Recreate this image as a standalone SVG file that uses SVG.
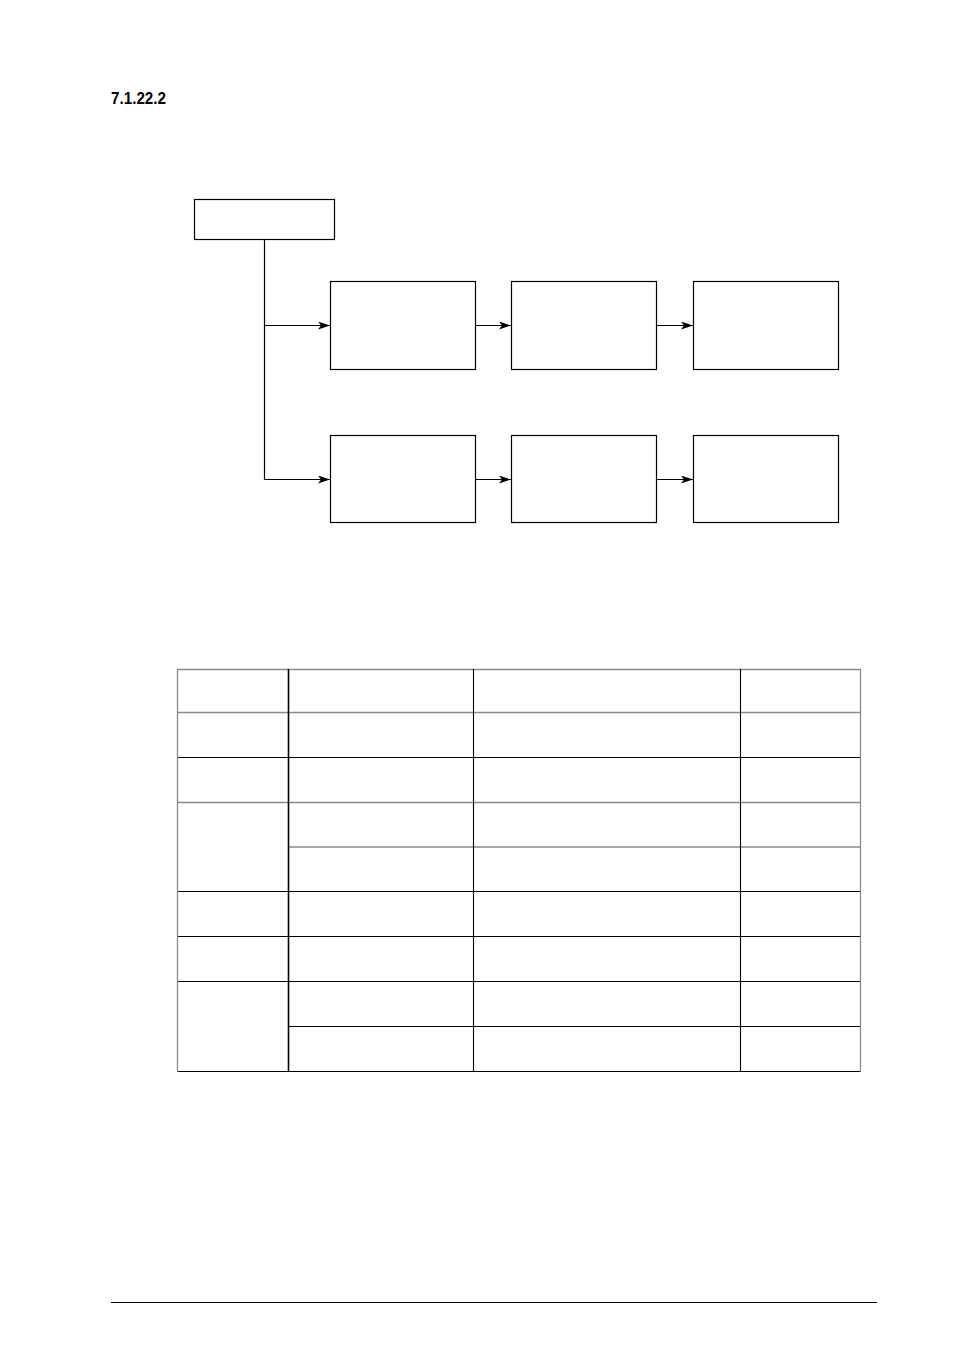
<svg xmlns="http://www.w3.org/2000/svg" width="954" height="1351" viewBox="0 0 954 1351">
<style>
.box{fill:#fff;stroke:#000;stroke-width:1.2}
.conn{fill:none;stroke:#000;stroke-width:1.2}
.tl{stroke:#000;stroke-width:1.1}
.tg{stroke:#8a8a8a;stroke-width:1.3}
.title{font-family:"Liberation Sans Narrow","Liberation Sans",Arial,sans-serif;font-weight:bold;font-size:16px;fill:#000}
</style>
<defs>
<marker id="arr" markerWidth="12" markerHeight="8" refX="12" refY="4" orient="auto" markerUnits="userSpaceOnUse">
<path d="M0,0 L12,4 L0,8 L3,4 Z" fill="#000"/>
</marker>
</defs>
<rect width="954" height="1351" fill="#fff"/>
<text class="title" x="111" y="103.5" textLength="55" lengthAdjust="spacingAndGlyphs">7.1.22.2</text>
<g id="connectors">
<path class="conn" d="M264.5,239 V479.5"/>
<path class="conn" d="M264.5,325.5 H330" marker-end="url(#arr)"/>
<path class="conn" d="M264.5,479.5 H330" marker-end="url(#arr)"/>
<path class="conn" d="M475.5,325.5 H511" marker-end="url(#arr)"/>
<path class="conn" d="M656.5,325.5 H693" marker-end="url(#arr)"/>
<path class="conn" d="M475.5,479.5 H511" marker-end="url(#arr)"/>
<path class="conn" d="M656.5,479.5 H693" marker-end="url(#arr)"/>
</g>
<g id="n0"><rect class="box" x="194.5" y="199.5" width="140" height="40"/></g>
<g id="n1"><rect class="box" x="330.5" y="281.5" width="145" height="88"/></g>
<g id="n2"><rect class="box" x="511.5" y="281.5" width="145" height="88"/></g>
<g id="n3"><rect class="box" x="693.5" y="281.5" width="145" height="88"/></g>
<g id="n4"><rect class="box" x="330.5" y="435.5" width="145" height="87"/></g>
<g id="n5"><rect class="box" x="511.5" y="435.5" width="145" height="87"/></g>
<g id="n6"><rect class="box" x="693.5" y="435.5" width="145" height="87"/></g>
<g id="table">
<line class="tg" x1="177" y1="669.5" x2="861" y2="669.5"/>
<line class="tg" x1="177" y1="712.5" x2="861" y2="712.5"/>
<line class="tl" x1="177" y1="757.5" x2="861" y2="757.5"/>
<line class="tg" x1="177" y1="802.5" x2="861" y2="802.5"/>
<line class="tg" x1="288" y1="847" x2="861" y2="847"/>
<line class="tl" x1="177" y1="891.5" x2="861" y2="891.5"/>
<line class="tl" x1="177" y1="936.5" x2="861" y2="936.5"/>
<line class="tl" x1="177" y1="981.5" x2="861" y2="981.5"/>
<line class="tl" x1="288" y1="1026.5" x2="861" y2="1026.5"/>
<line class="tl" x1="177" y1="1071.5" x2="861" y2="1071.5"/>
<line class="tg" x1="177.5" y1="669" x2="177.5" y2="1072"/>
<line class="tl" x1="288.5" y1="669" x2="288.5" y2="1072" style="stroke-width:1.6"/>
<line class="tl" x1="473.5" y1="669" x2="473.5" y2="1072"/>
<line class="tl" x1="740.5" y1="669" x2="740.5" y2="1072"/>
<line class="tg" x1="860.5" y1="669" x2="860.5" y2="1072"/>
</g>
<line x1="111" y1="1302.5" x2="877" y2="1302.5" stroke="#000" stroke-width="1"/>
</svg>
